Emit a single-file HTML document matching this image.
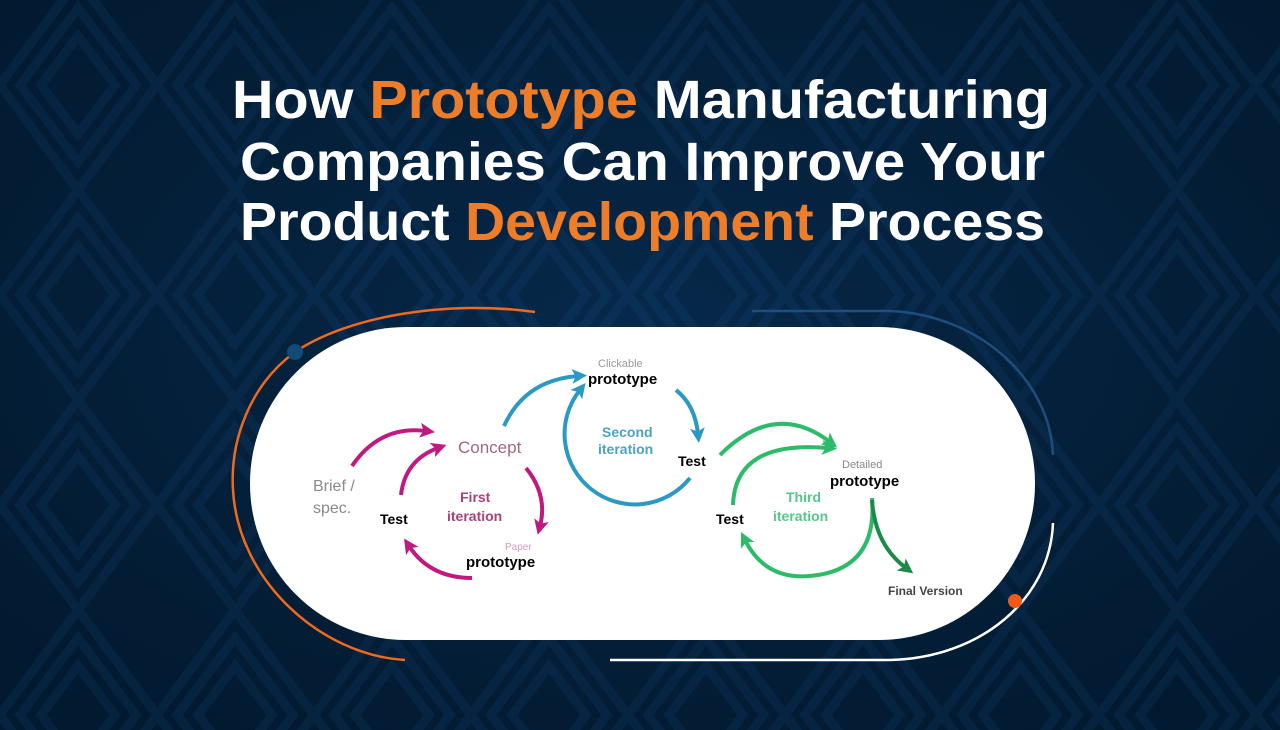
<!DOCTYPE html>
<html><head><meta charset="utf-8"><style>
html,body{margin:0;padding:0;}
body{width:1280px;height:730px;overflow:hidden;background:#03223f;position:relative;font-family:"Liberation Sans",sans-serif;}
svg{position:absolute;left:0;top:0;}
</style></head><body>
<svg width="1280" height="730" viewBox="0 0 1280 730">
<defs>
<pattern id="dia" x="0" y="-20" width="157" height="210" patternUnits="userSpaceOnUse">
<g fill="none" stroke="#082d52" stroke-width="9">
<path d="M78,0 L157,105 L78,210 L0,105 Z"/>
<path d="M78,28 L136,105 L78,182 L20,105 Z"/>
<path d="M78,56 L115,105 L78,154 L41,105 Z"/>
</g>
</pattern>
<radialGradient id="vig" cx="50%" cy="45%" r="70%">
<stop offset="0" stop-color="#0e3660" stop-opacity="0.35"/>
<stop offset="1" stop-color="#000" stop-opacity="0.25"/>
</radialGradient>
<marker id="mm" markerWidth="15" markerHeight="15" refX="6" refY="7.5" orient="auto" markerUnits="userSpaceOnUse" viewBox="0 0 15 15"><path d="M0,0 L15,7.5 L0,15 L3.5,7.5 Z" fill="#c0197f"/></marker>
<marker id="mb" markerWidth="15" markerHeight="15" refX="6" refY="7.5" orient="auto" markerUnits="userSpaceOnUse" viewBox="0 0 15 15"><path d="M0,0 L15,7.5 L0,15 L3.5,7.5 Z" fill="#2a9ac4"/></marker>
<marker id="mg" markerWidth="15" markerHeight="15" refX="6" refY="7.5" orient="auto" markerUnits="userSpaceOnUse" viewBox="0 0 15 15"><path d="M0,0 L15,7.5 L0,15 L3.5,7.5 Z" fill="#2dbb6a"/></marker>
<marker id="md" markerWidth="15" markerHeight="15" refX="6" refY="7.5" orient="auto" markerUnits="userSpaceOnUse" viewBox="0 0 15 15"><path d="M0,0 L15,7.5 L0,15 L3.5,7.5 Z" fill="#1e8a4a"/></marker>
</defs>
<rect width="1280" height="730" fill="#03223f"/>
<rect width="1280" height="730" fill="url(#dia)"/>
<rect width="1280" height="730" fill="url(#vig)"/>
<g font-family="Liberation Sans, sans-serif" font-weight="bold" font-size="54">
<text x="232" y="118" textLength="818" lengthAdjust="spacingAndGlyphs" fill="#fff">How <tspan fill="#ee7d2a">Prototype</tspan> Manufacturing</text>
<text x="240" y="180" textLength="805" lengthAdjust="spacingAndGlyphs" fill="#fff">Companies Can Improve Your</text>
<text x="240" y="240" textLength="805" lengthAdjust="spacingAndGlyphs" fill="#fff">Product <tspan fill="#ee7d2a">Development</tspan> Process</text>
</g>
<path d="M535,312 C450,300 350,315 295,352 C250,385 230,440 233,490 C238,580 320,655 405,660" fill="none" stroke="#ee6a1f" stroke-width="2.5"/>
<path d="M752,311 L890,311 C980,315 1050,380 1053,455" fill="none" stroke="#1c4f7e" stroke-width="2.5"/>
<path d="M1053,523 C1050,600 980,658 890,660 L610,660" fill="none" stroke="#ffffff" stroke-width="2.5"/>
<circle cx="295" cy="352" r="8" fill="#124a78"/>
<circle cx="1015" cy="601" r="7" fill="#ee5a1a"/>
<rect x="250" y="327" width="785" height="313" rx="156" fill="#ffffff"/>
<g fill="none" stroke="#c0197f" stroke-width="4">
<path d="M352,466 Q380,425 426,431" marker-end="url(#mm)"/>
<path d="M401,495 Q405,460 438,448" marker-end="url(#mm)"/>
<path d="M526,468 Q548,495 540,526" marker-end="url(#mm)"/>
<path d="M472,578 Q430,578 409,546" marker-end="url(#mm)"/>
</g>
<g fill="none" stroke="#2a9ac4" stroke-width="4">
<path d="M504,426 Q525,380 578,376" marker-end="url(#mb)"/>
<path d="M690,478 A67,67 0 1 1 580,390" marker-end="url(#mb)"/>
<path d="M676,390 Q695,405 698,434" marker-end="url(#mb)"/>
</g>
<g fill="none" stroke="#2dbb6a" stroke-width="4">
<path d="M720,455 Q775,400 830,442" marker-end="url(#mg)"/>
<path d="M733,505 Q735,440 828,448" marker-end="url(#mg)"/>
<path d="M872,498 Q878,570 810,576 Q765,580 745,540" marker-end="url(#mg)"/>
</g>
<path d="M872,500 Q875,545 906,568" fill="none" stroke="#1e8a4a" stroke-width="4" marker-end="url(#md)"/>
<g font-family="Liberation Sans, sans-serif">
<text x="313" y="491" font-size="16" fill="#8a8a8a">Brief /</text>
<text x="313" y="513" font-size="16" fill="#8a8a8a">spec.</text>
<text x="380" y="524" font-size="14" font-weight="bold" fill="#000">Test</text>
<text x="458" y="453" font-size="17" fill="#9a6a86">Concept</text>
<text x="460" y="502" font-size="14" font-weight="bold" fill="#a8417a">First</text>
<text x="447" y="521" font-size="14" font-weight="bold" fill="#a8417a">iteration</text>
<text x="505" y="550" font-size="10" fill="#d49ac0">Paper</text>
<text x="466" y="567" font-size="15" font-weight="bold" fill="#000">prototype</text>
<text x="598" y="367" font-size="11" fill="#999">Clickable</text>
<text x="588" y="384" font-size="15" font-weight="bold" fill="#000">prototype</text>
<text x="602" y="437" font-size="14" font-weight="bold" fill="#4aa3c4">Second</text>
<text x="598" y="454" font-size="14" font-weight="bold" fill="#4aa3c4">iteration</text>
<text x="678" y="466" font-size="14" font-weight="bold" fill="#000">Test</text>
<text x="842" y="468" font-size="11" fill="#888">Detailed</text>
<text x="830" y="486" font-size="15" font-weight="bold" fill="#000">prototype</text>
<text x="786" y="502" font-size="14" font-weight="bold" fill="#52c98a">Third</text>
<text x="773" y="521" font-size="14" font-weight="bold" fill="#52c98a">iteration</text>
<text x="716" y="524" font-size="14" font-weight="bold" fill="#000">Test</text>
<text x="888" y="595" font-size="12" font-weight="bold" fill="#444">Final Version</text>
</g>
</svg>
</body></html>
